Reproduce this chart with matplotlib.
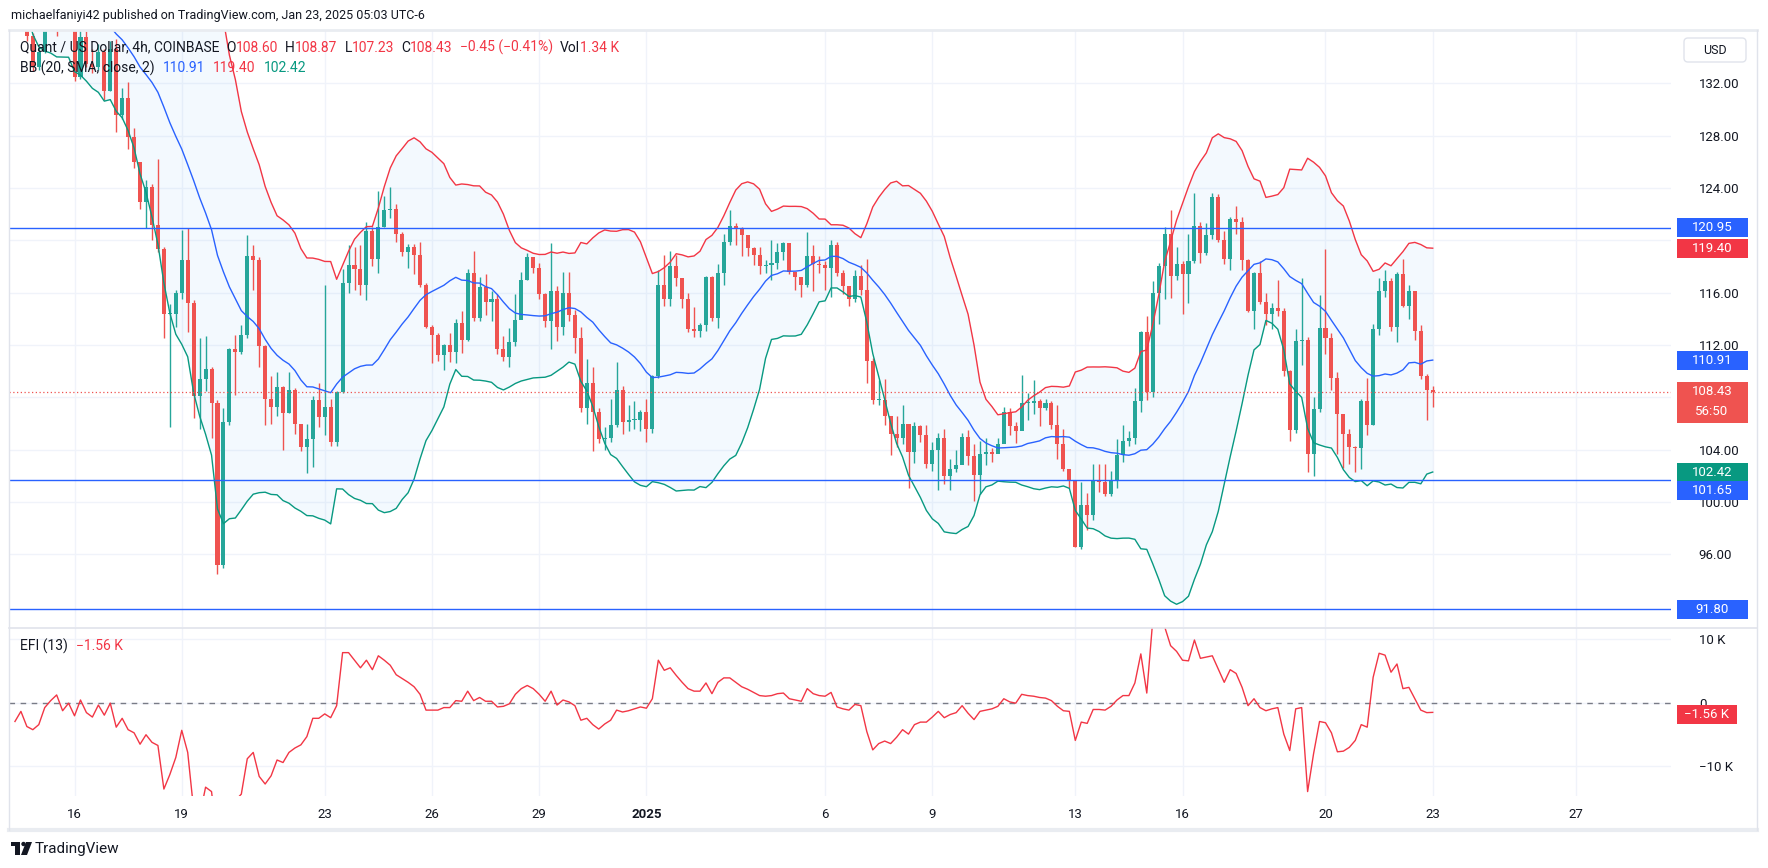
import matplotlib
matplotlib.use("Agg")
import matplotlib.pyplot as plt
from matplotlib.patches import Rectangle, FancyBboxPatch, Polygon, Circle
from matplotlib.transforms import IdentityTransform
import numpy as np
import pandas as pd

plt.rcParams['font.family'] = ['Roboto', 'DejaVu Sans']

# ---- data (QNT/USD 4h, COINBASE) ----
# closes before the visible window, only used to warm up the bollinger bands
pre_close = [141.2, 142.6, 141.8, 143.5, 142.3, 140.9, 142.0, 143.1, 141.6, 140.4,
             141.9, 142.7, 141.0, 140.1, 141.5, 142.2, 140.8, 139.8, 140.3]
first_k = -10  # candle index of the first visible bar (0 = Dec 16 00:00)

close = [139.5, 138.6, 135.6, 133.2, 134.4, 137.0, 138.2, 136.8, 138.0, 139.0,
         132.5, 135.5, 133.5, 133.2, 134.4, 131.4, 134.6, 129.6, 130.9, 127.9,
         126.0, 122.9, 124.1, 121.2, 119.3, 114.4, 114.4, 116.0, 118.5, 115.2,
         108.1, 109.4, 110.2, 107.6, 95.2, 106.1, 111.7, 111.5, 112.8, 118.8,
         118.5, 111.9, 107.9, 107.3, 108.8, 106.8, 108.6, 106.0, 104.2, 104.8,
         107.8, 106.5, 107.3, 104.6, 108.4, 116.7, 118.1, 117.8, 116.6, 120.7,
         118.6, 121.0, 122.3, 122.4, 120.5, 119.1, 119.5, 118.9, 116.6, 113.4,
         112.8, 111.2, 112.0, 111.5, 113.7, 112.4, 117.5, 114.1, 116.4, 115.3,
         115.5, 111.7, 111.1, 112.2, 113.9, 117.0, 118.7, 117.9, 115.9, 113.8,
         116.1, 113.4, 116.0, 114.3, 112.5, 107.2, 109.1, 106.9, 104.8, 104.9,
         105.9, 108.6, 106.1, 106.3, 106.3, 106.9, 105.6, 109.6, 116.6, 115.5,
         118.0, 117.1, 115.5, 113.2, 113.1, 113.5, 117.2, 114.1, 117.5, 119.9,
         121.1, 120.9, 120.4, 119.4, 118.9, 118.0, 118.1, 118.3, 119.1, 119.8,
         117.6, 117.2, 116.6, 118.8, 118.2, 118.1, 117.9, 119.6, 117.5, 116.5,
         115.5, 117.3, 116.2, 110.8, 107.8, 107.8, 106.6, 105.2, 104.9, 106.0,
         103.8, 105.8, 105.1, 102.9, 104.0, 104.9, 102.0, 102.5, 102.8, 105.0,
         103.5, 102.1, 103.7, 103.8, 103.7, 104.4, 106.9, 105.8, 105.4, 107.6,
         107.6, 107.7, 107.2, 107.6, 105.9, 104.4, 102.5, 101.6, 96.6, 99.8,
         99.0, 101.7, 101.5, 100.6, 101.7, 103.6, 104.7, 104.9, 107.7, 113.0,
         108.4, 116.0, 118.0, 120.5, 117.3, 118.2, 117.4, 118.4, 121.1, 119.0,
         120.4, 123.3, 120.0, 118.6, 121.6, 121.4, 118.5, 114.6, 117.5, 115.3,
         114.4, 114.8, 114.6, 110.0, 105.5, 112.3, 112.4, 103.7, 107.1, 113.3,
         112.5, 109.5, 106.7, 105.2, 104.2, 104.1, 107.7, 105.9, 113.2, 116.1,
         116.9, 113.4, 117.4, 115.0, 116.1, 113.1, 109.6, 108.6, 108.43]

high = [141.0, 140.0, 138.8, 135.8, 134.8, 137.5, 138.6, 138.4, 138.5, 139.4,
        139.2, 136.6, 136.0, 134.6, 135.0, 134.6, 135.2, 135.4, 131.6, 132.1,
        128.6, 126.0, 124.6, 124.3, 126.2, 119.5, 115.1, 116.2, 120.8, 120.9,
        115.4, 112.5, 112.7, 110.3, 107.8, 107.2, 111.8, 112.8, 113.5, 120.4,
        119.6, 118.7, 112.0, 109.6, 109.9, 108.9, 109.9, 108.7, 106.0, 106.0,
        108.1, 109.1, 116.6, 107.9, 108.5, 117.8, 119.6, 119.5, 119.6, 121.4,
        121.0, 123.8, 123.4, 124.1, 122.8, 120.6, 119.7, 119.7, 119.9, 116.7,
        113.5, 112.9, 112.1, 112.9, 114.0, 114.6, 117.8, 119.2, 117.2, 117.4,
        116.1, 115.9, 112.7, 113.3, 115.9, 117.6, 119.0, 118.7, 118.3, 116.0,
        119.8, 116.5, 117.6, 117.6, 114.7, 113.4, 110.9, 110.3, 107.2, 105.7,
        107.9, 110.7, 108.9, 107.4, 107.7, 107.0, 107.9, 109.7, 117.7, 118.9,
        119.2, 118.9, 117.1, 116.0, 114.9, 113.7, 117.3, 117.3, 118.2, 120.5,
        122.3, 121.3, 121.0, 120.2, 119.5, 119.5, 118.5, 120.0, 119.8, 119.9,
        119.8, 117.6, 117.1, 120.6, 119.6, 118.8, 118.4, 120.0, 119.9, 117.7,
        116.5, 117.7, 118.1, 118.6, 111.0, 109.3, 109.4, 106.6, 106.6, 107.4,
        105.9, 106.1, 105.9, 105.9, 104.6, 105.3, 105.6, 103.3, 104.0, 105.3,
        105.5, 104.4, 104.7, 104.9, 104.1, 104.9, 107.3, 107.2, 106.1, 109.7,
        108.3, 109.3, 107.9, 107.9, 107.7, 107.4, 105.6, 102.2, 101.7, 101.5,
        100.7, 102.9, 102.9, 102.9, 102.4, 104.8, 105.9, 105.4, 108.7, 113.1,
        114.2, 116.9, 118.3, 121.0, 122.3, 119.5, 118.4, 120.5, 123.6, 121.4,
        121.3, 123.6, 123.5, 120.7, 121.8, 122.6, 121.8, 118.6, 117.6, 118.4,
        116.0, 115.2, 117.0, 114.8, 110.1, 113.2, 117.1, 112.6, 108.0, 115.8,
        119.3, 112.9, 109.9, 106.7, 105.6, 104.3, 107.9, 109.5, 113.6, 117.1,
        117.7, 117.1, 117.6, 118.6, 116.6, 116.0, 113.5, 109.8, 108.87]

low = [139.0, 138.0, 135.2, 132.9, 133.0, 134.3, 136.7, 135.6, 136.6, 137.8,
       132.2, 132.3, 133.2, 132.8, 133.0, 130.7, 131.4, 128.3, 129.3, 127.0,
       125.5, 122.4, 120.9, 120.0, 119.1, 112.5, 105.7, 113.4, 115.5, 113.0,
       106.4, 105.6, 108.5, 104.9, 94.5, 95.0, 105.9, 108.2, 111.3, 112.5,
       116.2, 110.3, 105.9, 106.0, 106.6, 104.0, 106.8, 105.2, 103.9, 102.2,
       102.7, 105.7, 105.1, 104.3, 104.3, 108.3, 116.0, 116.2, 115.8, 115.4,
       118.0, 117.5, 121.0, 121.7, 119.9, 118.8, 117.9, 117.4, 116.4, 113.3,
       110.6, 110.8, 110.1, 110.7, 110.6, 111.4, 112.3, 113.8, 113.8, 114.3,
       113.8, 111.3, 110.8, 110.3, 111.9, 114.1, 117.0, 117.5, 115.5, 113.4,
       111.7, 112.3, 112.8, 113.8, 111.4, 106.9, 106.0, 103.9, 104.5, 104.0,
       104.6, 105.7, 105.2, 105.4, 105.6, 105.4, 104.6, 105.3, 109.5, 115.0,
       115.0, 116.5, 114.8, 113.0, 112.6, 112.6, 113.1, 113.8, 113.3, 116.6,
       119.6, 119.6, 118.8, 118.8, 118.1, 117.4, 117.5, 117.0, 117.8, 118.5,
       117.4, 116.2, 115.7, 116.4, 116.1, 117.5, 116.2, 115.7, 117.3, 115.9,
       115.0, 115.3, 115.8, 109.1, 107.5, 107.4, 105.9, 103.6, 104.2, 104.4,
       101.1, 103.0, 104.6, 102.6, 102.4, 100.9, 101.4, 100.9, 102.3, 102.9,
       102.8, 100.1, 100.6, 102.8, 103.1, 104.0, 104.5, 105.1, 104.5, 105.5,
       106.3, 106.7, 105.8, 107.0, 105.6, 103.3, 102.4, 101.1, 96.6, 96.4,
       97.9, 98.6, 100.8, 100.5, 100.5, 101.1, 103.1, 104.3, 104.4, 106.9,
       107.8, 108.0, 113.6, 115.5, 115.6, 117.0, 114.4, 115.2, 118.3, 118.3,
       118.9, 120.1, 119.9, 118.2, 117.7, 120.5, 117.7, 114.5, 113.2, 115.1,
       113.5, 113.2, 114.2, 109.6, 104.7, 105.3, 110.5, 102.3, 102.0, 106.9,
       111.3, 108.6, 103.7, 102.6, 102.9, 102.3, 102.5, 105.1, 105.9, 112.8,
       115.7, 113.1, 112.2, 114.9, 114.0, 112.4, 109.4, 106.3, 107.23]

# Elder force index (13), in thousands
efi = [-3.0, -1.4, -3.8, -4.3, -3.5, -0.8, 0.3, 1.2, -1.3, -0.1,
       -2.1, 0.4, -1.6, -2.3, -0.4, -2.0, -0.1, -3.9, -2.5, -4.3,
       -4.8, -6.6, -5.1, -6.3, -6.8, -13.7, -11.4, -8.7, -4.4, -7.9,
       -17.0, -18.0, -13.4, -14.1, -22.0, -19.0, -17.0, -15.5, -14.5, -8.9,
       -7.9, -11.7, -12.9, -11.6, -9.1, -9.5, -7.9, -7.2, -6.7, -5.4,
       -2.5, -2.5, -1.8, -2.4, -0.5, 7.9, 7.9, 6.7, 5.5, 6.7,
       5.2, 7.4, 6.7, 5.9, 4.4, 3.8, 3.2, 2.5, 1.3, -1.2,
       -1.2, -1.2, -0.8, -0.8, 0.3, 0.2, 1.8, 0.3, 0.8, 0.2,
       0.2, -0.7, -0.6, -0.2, 1.3, 2.2, 2.7, 2.2, 1.3, 0.2,
       1.8, -0.4, 0.4, 0.1, -0.5, -2.8, -2.5, -3.5, -4.2, -3.4,
       -2.8, -1.2, -1.5, -1.3, -1.0, -0.7, -0.9, 0.6, 6.7, 5.1,
       5.5, 4.3, 3.2, 2.2, 1.8, 1.8, 3.1, 1.4, 3.2, 3.9,
       3.9, 3.2, 2.5, 2.1, 1.6, 1.1, 1.0, 1.1, 1.4, 1.5,
       0.6, 0.4, 0.2, 2.2, 1.4, 1.1, 1.0, 1.6, -0.7, -1.0,
       -1.2, -0.3, -0.5, -4.6, -7.5, -6.5, -6.1, -6.5, -5.5, -4.3,
       -5.0, -3.5, -3.1, -3.1, -2.3, -1.4, -2.4, -1.9, -1.6, -0.5,
       -1.7, -2.7, -1.4, -1.2, -1.0, -0.6, 0.6, 0.1, -0.1, 1.3,
       1.1, 1.0, 0.8, 0.7, 0.3, -0.6, -1.3, -1.4, -6.0, -3.1,
       -3.3, -1.1, -1.1, -1.2, -0.6, 0.4, 1.1, 1.1, 3.1, 7.7,
       1.5, 13.0, 14.0, 12.0, 9.0, 8.1, 6.7, 6.6, 9.9, 7.0,
       7.2, 7.4, 5.3, 3.2, 5.2, 4.6, 2.4, -0.5, 0.6, -0.8,
       -1.3, -1.0, -0.8, -5.0, -7.6, -1.0, -0.8, -14.1, -8.1, -3.0,
       -3.2, -4.8, -7.8, -7.7, -7.1, -6.0, -3.5, -3.9, 4.0, 7.8,
       7.5, 4.8, 6.1, 2.2, 2.4, 0.6, -1.2, -1.6, -1.56]

tick_pos = [0, 18, 42, 60, 78, 96, 126, 144, 168, 186, 210, 228, 252]
tick_lab = ['16', '19', '23', '26', '29', '2025', '6', '9', '13', '16', '20', '23', '27']
price_ticks = [96, 100, 104, 108, 112, 116, 120, 124, 128, 132]
hidden_ticks = [108, 120]  # covered by the price tags in the original
levels = [120.95, 101.65, 91.80]

UP, DN = '#26a69a', '#ef5350'
BLUE, RED, GREEN = '#2962ff', '#f23645', '#089981'
TXT, GRID, EDGE = '#131722', '#f0f3fa', '#e0e3eb'

W, H = 1768, 868
fig = plt.figure(figsize=(W / 100, H / 100), dpi=100, facecolor='white')


def box(x0, y0, x1, y1):
    return [x0 / W, 1 - y1 / H, (x1 - x0) / W, (y1 - y0) / H]


ax = fig.add_axes(box(9, 30, 1671, 627))
ax2 = fig.add_axes(box(9, 628, 1671, 796))

k = np.arange(first_k, first_k + len(close))
c = np.array(close)
o = np.array([pre_close[-1]] + close[:-1])
hi, lo = np.array(high), np.array(low)

# bollinger bands (20, SMA, close, 2)
s = pd.Series(pre_close + close)
mid = s.rolling(20).mean().to_numpy()[len(pre_close):]
sd = s.rolling(20).std(ddof=0).to_numpy()[len(pre_close):]
upper, lower = mid + 2 * sd, mid - 2 * sd

ax.fill_between(k, lower, upper, color='#2196f3', alpha=0.05, lw=0, zorder=1)
cols = np.where(c >= o, UP, DN)
ax.vlines(k, lo, hi, colors=cols, lw=1, zorder=3)
ax.bar(k, np.maximum(np.abs(c - o), 0.08), bottom=np.minimum(o, c), width=0.68,
       color=cols, lw=0, zorder=3)
ax.plot(k, mid, color=BLUE, lw=1, zorder=4)
ax.plot(k, upper, color=RED, lw=1, zorder=4)
ax.plot(k, lower, color=GREEN, lw=1, zorder=4)
for lv in levels:
    ax.axhline(lv, color=BLUE, lw=1, zorder=5)
ax.axhline(close[-1], color=DN, lw=0.9, ls=(0, (1, 2)), zorder=5)

ax.set_xlim(-11, 268)
ax.set_ylim(90.46, 136.06)
ax.set_yticks(price_ticks)
ax.set_yticklabels(['' if v in hidden_ticks else f'{v:.2f}' for v in price_ticks])
ax.set_xticks(tick_pos)
ax.tick_params(axis='x', length=0, labelbottom=False)
ax.tick_params(axis='y', length=0, pad=20, labelsize=9.5, labelcolor=TXT,
               labelright=True, labelleft=False)
ax.grid(True, color=GRID, lw=1, zorder=0)
ax.set_axisbelow(True)

# EFI pane
ax2.plot(k, efi, color=RED, lw=1, zorder=3)
ax2.axhline(0, color='#787b86', lw=1, ls=(0, (4, 4)), zorder=2)
ax2.set_xlim(-11, 268)
ax2.set_ylim(-14.8, 11.8)
ax2.set_yticks([10, 0, -10])
ax2.set_yticklabels(['10 K', '0', '\u221210 K'])
for lab in ax2.get_yticklabels():
    lab.set_va('center')
ax2.get_yticklabels()[1].set_va('bottom')
ax2.set_xticks(tick_pos)
ax2.set_xticklabels(tick_lab)
ax2.get_xticklabels()[5].set_fontweight('bold')
ax2.tick_params(axis='x', length=0, pad=9, labelsize=9.5, labelcolor=TXT)
ax2.tick_params(axis='y', length=0, pad=20, labelsize=9.5, labelcolor=TXT,
                labelright=True, labelleft=False)
ax2.grid(True, color=GRID, lw=1, zorder=0)
ax2.set_axisbelow(True)

for a in (ax, ax2):
    a.set_facecolor('white')
    for sp in a.spines.values():
        sp.set_visible(False)

ident = IdentityTransform()


def hline(y, x0, x1, color, lw):
    fig.add_artist(plt.Line2D([x0, x1], [H - y, H - y], transform=ident, color=color, lw=lw))


def vline(x, y0, y1, color, lw):
    fig.add_artist(plt.Line2D([x, x], [H - y0, H - y1], transform=ident, color=color, lw=lw))


hline(29.5, 9, 1757, '#e9ecf1', 2)
hline(627.5, 9, 1757, EDGE, 1.2)
hline(829.5, 9, 1757, '#e9ecf1', 3)
vline(9, 30, 830, EDGE, 1)
vline(1757, 30, 830, EDGE, 1)


def tag(a, v, txt, color, dy=0, w=71, h=19):
    yc = a.transData.transform((0, v))[1] - dy
    fig.add_artist(Rectangle((1677, yc - h / 2), w, h, transform=ident, fc=color, ec='none', zorder=5))
    fig.text(1677 + w / 2, yc, txt, transform=ident, color='white', fontsize=9.5,
             ha='center', va='center', zorder=6)


tag(ax, levels[0], '120.95', BLUE)
tag(ax, upper[-1], '119.40', RED)
tag(ax, mid[-1], '110.91', BLUE)
tag(ax, lower[-1], '102.42', GREEN)
tag(ax, levels[1], '101.65', BLUE, dy=10)
tag(ax, levels[2], '91.80', BLUE)
tag(ax2, efi[-1], '\u22121.56 K', RED, dy=2, w=60)

# last price tag with countdown
yl = ax.transData.transform((0, close[-1]))[1]
fig.add_artist(Rectangle((1677, yl - 31), 71, 40.5, transform=ident, fc=DN, ec='none', zorder=5))
fig.text(1712, yl, '108.43', transform=ident, color='white', fontsize=9.5, ha='center', va='center', zorder=6)
fig.text(1712, yl - 20, '56:50', transform=ident, color='white', fontsize=9.5, ha='center', va='center', zorder=6)

# USD button
fig.add_artist(FancyBboxPatch((1684, H - 62), 62, 24, boxstyle='round,pad=0,rounding_size=4',
                              transform=ident, fc='white', ec=EDGE, lw=1, zorder=5))
fig.text(1715, H - 50, 'USD', transform=ident, color=TXT, fontsize=9, ha='center', va='center', zorder=6)


def rich(x, y, parts, size=10):
    r = fig.canvas.get_renderer()
    for txt, col, gap in parts:
        t = fig.text(x / W, 1 - y / H, txt, color=col, fontsize=size, ha='left', va='center', zorder=10)
        x += t.get_window_extent(renderer=r).width + gap


fig.text(11 / W, 1 - 16 / H, 'michaelfaniyi42 published on TradingView.com, Jan 23, 2025 05:03 UTC-6',
         color=TXT, fontsize=9, ha='left', va='center')
rich(20, 47.5, [('Quant / US Dollar, 4h, COINBASE', TXT, 7), ('O', TXT, 0), ('108.60', RED, 7),
                ('H', TXT, 0), ('108.87', RED, 7), ('L', TXT, 0), ('107.23', RED, 7),
                ('C', TXT, 0), ('108.43', RED, 7), ('\u22120.45 (\u22120.41%)', RED, 7),
                ('Vol', TXT, 0), ('1.34 K', RED, 0)])
rich(20, 68, [('BB (20, SMA, close, 2)', TXT, 8), ('110.91', BLUE, 8), ('119.40', RED, 8),
              ('102.42', GREEN, 0)])
rich(20, 646, [('EFI (13)', TXT, 8), ('\u22121.56 K', RED, 0)])

# TradingView logo
logo_c = '#131722'
fig.add_artist(Rectangle((11, H - 846), 9, 4, transform=ident, fc=logo_c, ec='none'))
fig.add_artist(Rectangle((15, H - 855), 5, 12, transform=ident, fc=logo_c, ec='none'))
fig.add_artist(Circle((23.5, H - 844), 2.2, transform=ident, fc=logo_c, ec='none'))
fig.add_artist(Polygon([(26, H - 842), (32, H - 842), (27, H - 855), (21, H - 855)],
                       transform=ident, fc=logo_c, ec='none'))
fig.text(35, H - 848.5, 'TradingView', transform=ident, color=logo_c, fontsize=11,
         ha='left', va='center')

fig.savefig('out.png', dpi=100, facecolor='white')
